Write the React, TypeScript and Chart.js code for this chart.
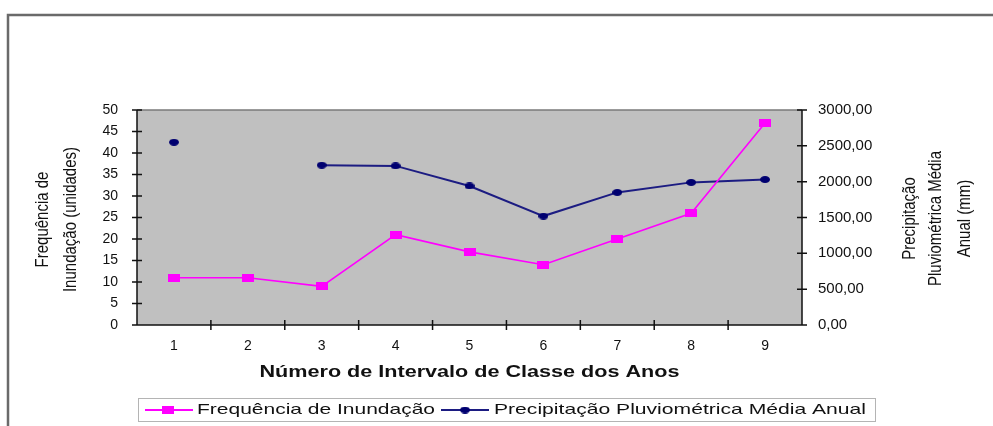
import React, { useEffect, useRef } from 'react';
import { Chart, registerables } from 'chart.js';

Chart.register(...registerables);

// ---- data ----
const categories = ['1', '2', '3', '4', '5', '6', '7', '8', '9'];
const floodFrequency = [11, 11, 9, 21, 17, 14, 20, 26, 47];
const annualRainfall = [2550, null, 2230, 2220, 1940, 1520, 1850, 1990, 2030];
const leftAxisRange = [0, 50, 5]; // min, max, step
const rightAxisRange = [0, 3000, 500];
const seriesNames = ['Frequência de Inundação', 'Precipitação Pluviométrica Média Anual'];
const xTitle = 'Número de Intervalo de Classe dos Anos';
const leftTitle = ['Frequência de', 'Inundação (unidades)'];
const rightTitle = ['Precipitação', 'Pluviométrica Média', 'Anual (mm)'];

const FONT = "'Liberation Sans', Arial, sans-serif";
const MAGENTA = '#ff00ff';
const NAVY = '#1c1c82';
const NAVY_PT = '#000070';

function makeMarker(kind: 'rect' | 'ellipse', color: string, w: number, h: number) {
  const c = document.createElement('canvas');
  c.width = w;
  c.height = h;
  const g = c.getContext('2d')!;
  g.fillStyle = color;
  if (kind === 'rect') {
    g.fillRect(0, 0, w, h);
  } else {
    g.beginPath();
    g.ellipse(w / 2, h / 2, w / 2, h / 2, 0, 0, Math.PI * 2);
    g.fill();
  }
  return c;
}

function stretchedText(ctx: CanvasRenderingContext2D, text: string, x: number, y: number, font: string, width: number) {
  ctx.save();
  ctx.font = font;
  const w = ctx.measureText(text).width;
  ctx.translate(x, y);
  ctx.scale(width / w, 1);
  ctx.textAlign = 'left';
  ctx.textBaseline = 'middle';
  ctx.fillStyle = '#111';
  ctx.fillText(text, 0, 0);
  ctx.restore();
}

function rotatedLines(ctx: CanvasRenderingContext2D, lines: string[], xs: number[], cy: number, font: string, thick: number) {
  lines.forEach((line, i) => {
    ctx.save();
    ctx.translate(xs[i], cy);
    ctx.rotate(-Math.PI / 2);
    ctx.scale(1, thick);
    ctx.font = font;
    ctx.textAlign = 'center';
    ctx.textBaseline = 'middle';
    ctx.fillStyle = '#111';
    ctx.fillText(line, 0, 0);
    ctx.restore();
  });
}

export default function App() {
  const ref = useRef<HTMLCanvasElement>(null);

  useEffect(() => {
    if (!ref.current) return;
    const magentaPt = makeMarker('rect', MAGENTA, 12, 8);
    const navyPt = makeMarker('ellipse', NAVY_PT, 10, 7);

    const decor = {
      id: 'decor',
      beforeDraw(chart: any) {
        const { ctx, chartArea: a } = chart;
        ctx.save();
        ctx.fillStyle = '#fff';
        ctx.fillRect(0, 0, chart.width, chart.height);
        ctx.strokeStyle = '#6a6a6a';
        ctx.lineWidth = 2.5;
        ctx.beginPath();
        ctx.moveTo(8, chart.height + 5);
        ctx.lineTo(8, 15);
        ctx.lineTo(chart.width + 5, 15);
        ctx.stroke();
        ctx.fillStyle = '#c0c0c0';
        ctx.fillRect(a.left, a.top, a.right - a.left, a.bottom - a.top);
        ctx.strokeStyle = '#7a7a7a';
        ctx.lineWidth = 1.5;
        ctx.beginPath();
        ctx.moveTo(a.left, a.top);
        ctx.lineTo(a.right, a.top);
        ctx.stroke();
        ctx.restore();
      },
      beforeDatasetsDraw(chart: any) {
        const { ctx, chartArea: a, scales } = chart;
        ctx.save();
        ctx.strokeStyle = '#111';
        ctx.lineWidth = 1.5;
        ctx.beginPath();
        ctx.moveTo(a.left, a.top);
        ctx.lineTo(a.left, a.bottom);
        ctx.lineTo(a.right, a.bottom);
        ctx.moveTo(a.right, a.top);
        ctx.lineTo(a.right, a.bottom);
        scales.y.ticks.forEach((t: any) => {
          const y = scales.y.getPixelForValue(t.value);
          ctx.moveTo(a.left - 5, y);
          ctx.lineTo(a.left + 5, y);
        });
        scales.y1.ticks.forEach((t: any) => {
          const y = scales.y1.getPixelForValue(t.value);
          ctx.moveTo(a.right - 5, y);
          ctx.lineTo(a.right + 5, y);
        });
        const xs = scales.x;
        for (let i = 1; i < categories.length; i++) {
          const x = (xs.getPixelForValue(i - 1) + xs.getPixelForValue(i)) / 2;
          ctx.moveTo(x, a.bottom - 5);
          ctx.lineTo(x, a.bottom + 5);
        }
        ctx.stroke();
        ctx.restore();
      },
      afterDraw(chart: any) {
        const { ctx, chartArea: a } = chart;
        const cx = (a.left + a.right) / 2;
        const cy = (a.top + a.bottom) / 2;
        // x title
        stretchedText(ctx, xTitle, cx - 210, 373, `bold 16px ${FONT}`, 420);
        // y titles
        rotatedLines(ctx, leftTitle, [43, 71], cy + 2, `15px ${FONT}`, 1.25);
        rotatedLines(ctx, rightTitle, [910, 936, 965], cy + 1, `15px ${FONT}`, 1.25);
        // legend
        ctx.save();
        ctx.fillStyle = '#fff';
        ctx.fillRect(138, 398, 738, 23);
        ctx.strokeStyle = '#b4b4b4';
        ctx.lineWidth = 1;
        ctx.strokeRect(138.5, 398.5, 737, 23);
        const ly = 410;
        ctx.lineWidth = 2;
        ctx.strokeStyle = MAGENTA;
        ctx.beginPath();
        ctx.moveTo(145, ly);
        ctx.lineTo(193, ly);
        ctx.stroke();
        ctx.drawImage(magentaPt, 168 - 6, ly - 4);
        ctx.strokeStyle = NAVY;
        ctx.beginPath();
        ctx.moveTo(441, ly);
        ctx.lineTo(489, ly);
        ctx.stroke();
        ctx.drawImage(navyPt, 465 - 5, ly - 3.5);
        ctx.restore();
        stretchedText(ctx, seriesNames[0], 197, ly, `15px ${FONT}`, 238);
        stretchedText(ctx, seriesNames[1], 494, ly, `15px ${FONT}`, 372);
      },
    };

    const chart = new Chart(ref.current, {
      type: 'line',
      data: {
        labels: categories,
        datasets: [
          {
            label: seriesNames[0],
            data: floodFrequency,
            yAxisID: 'y',
            borderColor: MAGENTA,
            borderWidth: 1.6,
            pointStyle: magentaPt as any,
            pointRadius: 4,
            tension: 0,
            fill: false,
          },
          {
            label: seriesNames[1],
            data: annualRainfall as any,
            yAxisID: 'y1',
            borderColor: NAVY,
            borderWidth: 2,
            pointStyle: navyPt as any,
            pointRadius: 4,
            spanGaps: false,
            tension: 0,
            fill: false,
          },
        ],
      },
      options: {
        animation: false,
        responsive: true,
        maintainAspectRatio: false,
        layout: { padding: { top: 110, left: 0, right: 0, bottom: 0 } },
        plugins: {
          legend: { display: false },
          tooltip: { enabled: false },
          title: { display: false },
        },
        scales: {
          x: {
            type: 'category',
            offset: true,
            grid: { display: false, drawTicks: false },
            border: { display: false },
            ticks: { color: '#111', font: { family: FONT, size: 14 }, padding: 13, maxRotation: 0 },
            afterFit: (s: any) => { s.height = 101; },
          },
          y: {
            type: 'linear',
            position: 'left',
            min: leftAxisRange[0],
            max: leftAxisRange[1],
            grid: { display: false, drawTicks: false },
            border: { display: false },
            ticks: { stepSize: leftAxisRange[2], color: '#111', font: { family: FONT, size: 14 }, padding: 19 },
            afterFit: (s: any) => { s.width = 137; },
          },
          y1: {
            type: 'linear',
            position: 'right',
            min: rightAxisRange[0],
            max: rightAxisRange[1],
            grid: { display: false, drawTicks: false },
            border: { display: false },
            ticks: {
              stepSize: rightAxisRange[2],
              color: '#111',
              font: { family: FONT, size: 15 },
              padding: 16,
              callback: (v: any) => Number(v).toFixed(2).replace('.', ','),
            },
            afterFit: (s: any) => { s.width = 191; },
          },
        },
      },
      plugins: [decor],
    });
    return () => chart.destroy();
  }, []);

  return (
    <div style={{ position: 'fixed', left: 0, top: 0, width: 993, height: 426, background: '#fff' }}>
      <canvas ref={ref} />
    </div>
  );
}
